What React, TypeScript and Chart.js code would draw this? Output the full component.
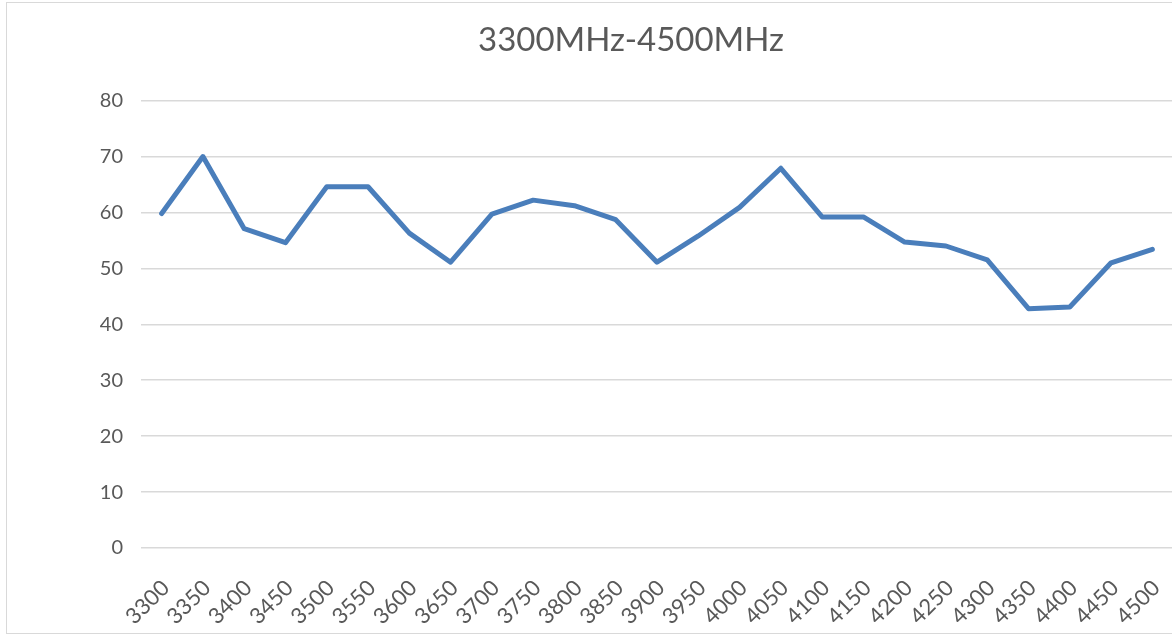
import React, { useEffect, useRef } from "react";
import { Chart, registerables } from "chart.js";

Chart.register(...registerables);

const TITLE = "3300MHz-4500MHz";
const categories = [
  "3300", "3350", "3400", "3450", "3500", "3550", "3600", "3650", "3700",
  "3750", "3800", "3850", "3900", "3950", "4000", "4050", "4100", "4150",
  "4200", "4250", "4300", "4350", "4400", "4450", "4500",
];
const values = [
  59.8, 70.0, 57.1, 54.6, 64.6, 64.6, 56.3, 51.1, 59.7,
  62.2, 61.2, 58.7, 51.1, 55.8, 60.9, 67.9, 59.2, 59.2,
  54.7, 54.0, 51.5, 42.8, 43.1, 51.0, 53.4,
];
const yTicks = [0, 10, 20, 30, 40, 50, 60, 70, 80];

const FONT = "Lato, 'Open Sans', sans-serif";
const TEXT_COLOR = "#595959";

export default function App() {
  const ref = useRef<HTMLCanvasElement | null>(null);

  useEffect(() => {
    if (!ref.current) return;
    const chart = new Chart(ref.current, {
      type: "line",
      data: {
        labels: categories,
        datasets: [
          {
            label: TITLE,
            data: values,
            borderColor: "#4A7EBB",
            backgroundColor: "#4A7EBB",
            borderWidth: 5,
            borderJoinStyle: "round",
            borderCapStyle: "round",
            pointRadius: 0,
            tension: 0,
            fill: false,
            yAxisID: "y",
          },
        ],
      },
      options: {
        animation: false,
        responsive: false,
        maintainAspectRatio: false,
        layout: { padding: 0 },
        plugins: {
          legend: { display: false },
          tooltip: { enabled: false },
          title: {
            display: true,
            text: TITLE,
            color: TEXT_COLOR,
            font: { family: FONT, size: 33, weight: "normal" },
            padding: { top: 18, bottom: 40 },
          },
        },
        scales: {
          x: {
            offset: true,
            grid: { display: false },
            border: { display: false },
            ticks: {
              autoSkip: false,
              maxRotation: 45,
              minRotation: 45,
              color: TEXT_COLOR,
              font: { family: FONT, size: 22 },
              padding: 19,
              labelOffset: 4,
            },
            afterFit: (scale: any) => {
              scale.height = 85;
            },
          },
          y: {
            min: 0,
            max: 80,
            afterBuildTicks: (scale: any) => {
              scale.ticks = yTicks.map((v) => ({ value: v }));
            },
            grid: { color: "#d9d9d9", lineWidth: 1.5, drawTicks: false },
            border: { display: false },
            ticks: {
              color: TEXT_COLOR,
              font: { family: FONT, size: 20 },
              padding: 18,
            },
            afterFit: (scale: any) => {
              scale.width = 134;
            },
          },
          yRight: {
            position: "right",
            display: true,
            grid: { display: false, drawTicks: false },
            border: { display: false },
            ticks: { display: false },
            afterFit: (scale: any) => {
              scale.width = 82;
            },
          },
        },
      },
    });
    return () => chart.destroy();
  }, []);

  return (
    <div style={{ position: "fixed", inset: 0, overflow: "hidden", background: "#fff" }}>
      <div
        style={{
          position: "absolute",
          left: 6,
          top: 2,
          width: 1250,
          height: 632,
          border: "1px solid #d9d9d9",
          boxSizing: "border-box",
          background: "#fff",
        }}
      >
        <canvas ref={ref} width={1248} height={630} style={{ display: "block" }} />
      </div>
    </div>
  );
}
